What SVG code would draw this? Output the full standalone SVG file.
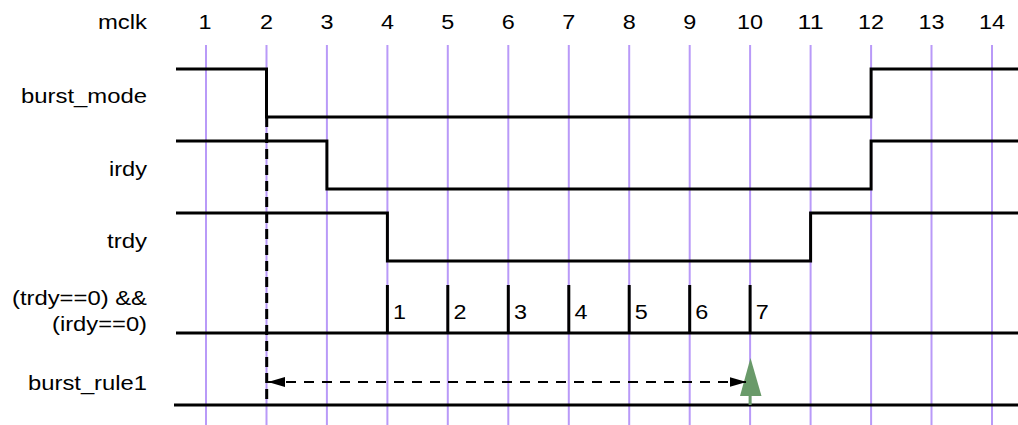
<svg xmlns="http://www.w3.org/2000/svg" width="1018" height="425" viewBox="0 0 1018 425">
<style>
text { font-family: "Liberation Sans", Arial, sans-serif; font-size: 20px; fill: #000; }
.lbl { text-anchor: end; }
.clk { text-anchor: middle; }
.grid line { stroke: #b99af8; stroke-width: 2; }
.sig { fill: none; stroke: #000; stroke-width: 3; }
.tick { stroke: #000; stroke-width: 3; }
</style>
<defs>
<marker id="ah" viewBox="0 0 17 10" refX="17" refY="5" markerWidth="17" markerHeight="10" markerUnits="userSpaceOnUse" orient="auto-start-reverse">
<path d="M0,0 L17,5 L0,10 z" fill="#000"/>
</marker>
</defs>
<rect width="1018" height="425" fill="#fff"/>
<g id="grid" class="grid">
<line x1="206" y1="45" x2="206" y2="425"/>
<line x1="266.5" y1="45" x2="266.5" y2="425"/>
<line x1="326.9" y1="45" x2="326.9" y2="425"/>
<line x1="387.4" y1="45" x2="387.4" y2="425"/>
<line x1="447.8" y1="45" x2="447.8" y2="425"/>
<line x1="508.3" y1="45" x2="508.3" y2="425"/>
<line x1="568.8" y1="45" x2="568.8" y2="425"/>
<line x1="629.2" y1="45" x2="629.2" y2="425"/>
<line x1="689.7" y1="45" x2="689.7" y2="425"/>
<line x1="750.1" y1="45" x2="750.1" y2="425"/>
<line x1="810.6" y1="45" x2="810.6" y2="425"/>
<line x1="871.1" y1="45" x2="871.1" y2="425"/>
<line x1="931.5" y1="45" x2="931.5" y2="425"/>
<line x1="992" y1="45" x2="992" y2="425"/>
</g>
<g id="clock-labels">
<text class="lbl" x="147" y="29" textLength="49" lengthAdjust="spacingAndGlyphs">mclk</text>
<text class="clk" x="205" y="29" textLength="13" lengthAdjust="spacingAndGlyphs">1</text>
<text class="clk" x="266.5" y="29" textLength="13" lengthAdjust="spacingAndGlyphs">2</text>
<text class="clk" x="326.9" y="29" textLength="13" lengthAdjust="spacingAndGlyphs">3</text>
<text class="clk" x="387.4" y="29" textLength="13" lengthAdjust="spacingAndGlyphs">4</text>
<text class="clk" x="447.8" y="29" textLength="13" lengthAdjust="spacingAndGlyphs">5</text>
<text class="clk" x="508.3" y="29" textLength="13" lengthAdjust="spacingAndGlyphs">6</text>
<text class="clk" x="568.8" y="29" textLength="13" lengthAdjust="spacingAndGlyphs">7</text>
<text class="clk" x="629.2" y="29" textLength="13" lengthAdjust="spacingAndGlyphs">8</text>
<text class="clk" x="689.7" y="29" textLength="13" lengthAdjust="spacingAndGlyphs">9</text>
<text class="clk" x="750.1" y="29" textLength="26" lengthAdjust="spacingAndGlyphs">10</text>
<text class="clk" x="810.6" y="29" textLength="26" lengthAdjust="spacingAndGlyphs">11</text>
<text class="clk" x="871.1" y="29" textLength="26" lengthAdjust="spacingAndGlyphs">12</text>
<text class="clk" x="931.5" y="29" textLength="26" lengthAdjust="spacingAndGlyphs">13</text>
<text class="clk" x="992" y="29" textLength="26" lengthAdjust="spacingAndGlyphs">14</text>
</g>
<g id="burst_mode">
<text class="lbl" x="147" y="103" textLength="126" lengthAdjust="spacingAndGlyphs">burst_mode</text>
<path class="sig" d="M176,69 H266.5 V117 H871.1 V69 H1018"/>
</g>
<g id="irdy">
<text class="lbl" x="147" y="176" textLength="38" lengthAdjust="spacingAndGlyphs">irdy</text>
<path class="sig" d="M176,141 H326.9 V189 H871.1 V141 H1018"/>
</g>
<g id="trdy">
<text class="lbl" x="147" y="248" textLength="40" lengthAdjust="spacingAndGlyphs">trdy</text>
<path class="sig" d="M176,213 H387.4 V261 H810.6 V213 H1018"/>
</g>
<g id="condition">
<text class="lbl" x="147" y="305" textLength="135" lengthAdjust="spacingAndGlyphs">(trdy==0) &amp;&amp;</text>
<text class="lbl" x="147" y="330.5" textLength="95" lengthAdjust="spacingAndGlyphs">(irdy==0)</text>
<path class="sig" d="M176,333 H1018"/>
<line class="tick" x1="387.4" y1="285" x2="387.4" y2="333"/>
<line class="tick" x1="447.8" y1="285" x2="447.8" y2="333"/>
<line class="tick" x1="508.3" y1="285" x2="508.3" y2="333"/>
<line class="tick" x1="568.8" y1="285" x2="568.8" y2="333"/>
<line class="tick" x1="629.2" y1="285" x2="629.2" y2="333"/>
<line class="tick" x1="689.7" y1="285" x2="689.7" y2="333"/>
<line class="tick" x1="750.1" y1="285" x2="750.1" y2="333"/>
<text x="393" y="319" textLength="13" lengthAdjust="spacingAndGlyphs">1</text>
<text x="453.4" y="319" textLength="13" lengthAdjust="spacingAndGlyphs">2</text>
<text x="513.9" y="319" textLength="13" lengthAdjust="spacingAndGlyphs">3</text>
<text x="574.4" y="319" textLength="13" lengthAdjust="spacingAndGlyphs">4</text>
<text x="634.8" y="319" textLength="13" lengthAdjust="spacingAndGlyphs">5</text>
<text x="695.3" y="319" textLength="13" lengthAdjust="spacingAndGlyphs">6</text>
<text x="755.7" y="319" textLength="13" lengthAdjust="spacingAndGlyphs">7</text>
</g>
<g id="burst_rule1">
<text class="lbl" x="147" y="390" textLength="119" lengthAdjust="spacingAndGlyphs">burst_rule1</text>
<path class="sig" d="M174,405 H1018"/>
<line x1="750.1" y1="392" x2="750.1" y2="405" stroke="#699a69" stroke-width="3"/>
<polygon points="750.5,358 740,396 761.5,396" fill="#699a69"/>
</g>
<g id="connectors">
<line x1="266.7" y1="117" x2="266.7" y2="405" stroke="#000" stroke-width="3" stroke-dasharray="10,6"/>
<line x1="268" y1="382" x2="746.5" y2="382" stroke="#000" stroke-width="2" stroke-dasharray="10,8" marker-start="url(#ah)" marker-end="url(#ah)"/>
</g>
</svg>
